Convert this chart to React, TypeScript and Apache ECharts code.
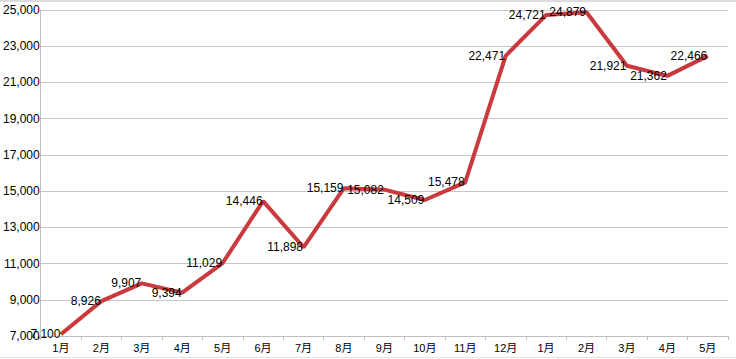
import React, { useEffect, useRef } from "react";
import * as echarts from "echarts";

const categories = ["1月", "2月", "3月", "4月", "5月", "6月", "7月", "8月", "9月", "10月", "11月", "12月", "1月", "2月", "3月", "4月", "5月"];
const values = [7100, 8926, 9907, 9394, 11029, 14446, 11898, 15159, 15082, 14509, 15478, 22471, 24721, 24879, 21921, 21362, 22466];
const yMin = 7000;
const yMax = 25000;
const yInterval = 2000;

export default function App() {
  const ref = useRef<HTMLDivElement>(null);
  useEffect(() => {
    document.body.style.margin = "0";
    const chart = echarts.init(ref.current!, null, { renderer: "svg" });
    const font = "'Liberation Sans', 'Noto Sans CJK SC', sans-serif";
    chart.setOption({
      animation: false,
      backgroundColor: "#ffffff",
      grid: { left: 37, right: 8, top: 10, bottom: 23, containLabel: false },
      xAxis: {
        type: "category",
        data: categories,
        boundaryGap: true,
        axisLine: { show: true, lineStyle: { color: "#bfbfbf", width: 1 } },
        axisTick: { show: true, length: 4, lineStyle: { color: "#bfbfbf" } },
        axisLabel: { color: "#000", fontSize: 11, fontFamily: font, margin: 6 },
        splitLine: { show: false },
      },
      yAxis: {
        type: "value",
        min: yMin,
        max: yMax,
        interval: yInterval,
        axisLine: { show: true, lineStyle: { color: "#bfbfbf", width: 1 } },
        axisTick: { show: false },
        axisLabel: {
          color: "#000",
          fontSize: 12,
          fontFamily: font,
          margin: 1,
          formatter: (v: number) => v.toLocaleString("en-US"),
        },
        splitLine: { show: true, lineStyle: { color: "#c6c6c6", width: 1 } },
      },
      graphic: [
        { type: "rect", left: 0, top: 0, shape: { width: 736, height: 2 }, style: { fill: "#dcdcdc" }, silent: true },
        { type: "line", shape: { x1: 0, y1: 357.5, x2: 736, y2: 357.5 }, style: { stroke: "#e2e2e2", lineWidth: 1 }, silent: true },
      ],
      series: [
        {
          type: "line",
          data: values,
          symbol: "circle",
          symbolSize: 1,
          showSymbol: true,
          showAllSymbol: true,
          lineStyle: { color: "#c9393d", width: 4 },
          itemStyle: { color: "rgba(0,0,0,0)", borderWidth: 0 },
          label: {
            show: true,
            position: "left",
            distance: 0,
            color: "#000",
            opacity: 1,
            fontSize: 12,
            fontFamily: font,
            formatter: (p: any) => Number(p.value).toLocaleString("en-US"),
          },
          z: 2,
        },
      ],
    });
    return () => chart.dispose();
  }, []);
  return <div ref={ref} style={{ position: "absolute", left: 0, top: 0, width: 736, height: 359 }} />;
}
